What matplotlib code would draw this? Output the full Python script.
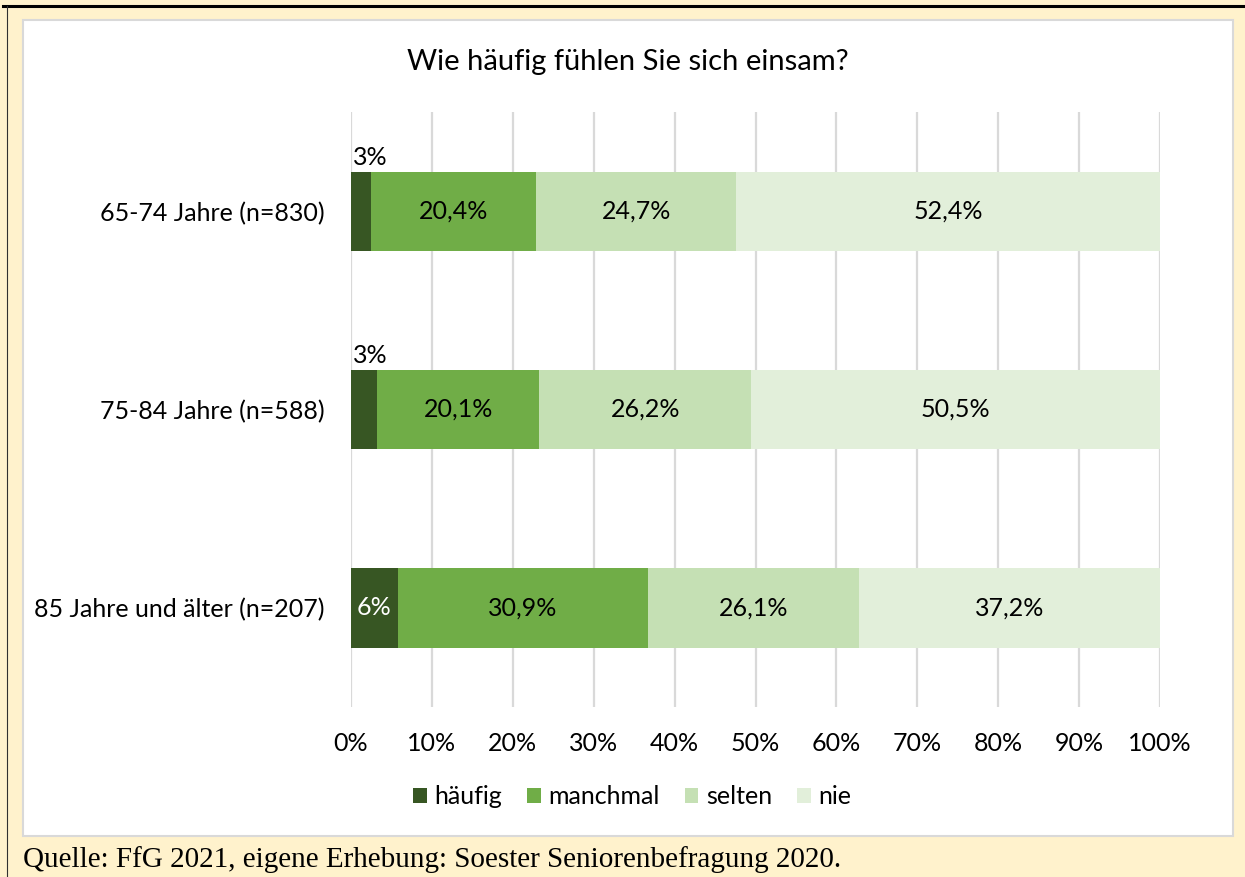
import numpy as np
import matplotlib
matplotlib.use("Agg")
import matplotlib.pyplot as plt
from matplotlib.patches import Rectangle, Patch
from matplotlib.lines import Line2D

plt.rcParams['font.family'] = ['Lato', 'DejaVu Sans']

# data
groups = ["65-74 Jahre (n=830)", "75-84 Jahre (n=588)", "85 Jahre und älter (n=207)"]
categories = ["häufig", "manchmal", "selten", "nie"]
haeufig = [2.5, 3.2, 5.8]
manchmal = [20.4, 20.1, 30.9]
selten = [24.7, 26.2, 26.1]
nie = [52.4, 50.5, 37.2]
colors = ["#375623", "#70AD47", "#C5E0B4", "#E2EFDA"]

W, H = 1245, 877
FS = 18
fig = plt.figure(figsize=(W / 100, H / 100), dpi=100, facecolor="#FFF2CC")

# page decoration: black rule on top, left rule, white chart panel
fig.add_artist(Line2D([3 / W, 1], [1 - 5.5 / H, 1 - 5.5 / H], color="black", lw=2.2,
                      transform=fig.transFigure, zorder=-2))
fig.add_artist(Line2D([7 / W, 7 / W], [0, 1 - 5.5 / H], color="#303030", lw=0.8,
                      transform=fig.transFigure, zorder=-2))
fig.add_artist(Rectangle((23 / W, 1 - 836 / H), (1233 - 23) / W, (836 - 20) / H,
                         facecolor="white", edgecolor="#D9D9D9", lw=1.5,
                         transform=fig.transFigure, zorder=-1))

ax = fig.add_axes([351 / W, 1 - 707 / H, (1160 - 351) / W, 595 / H])
ax.set_facecolor("none")


def pct0(v):
    # round half up like Excel
    return f"{int(np.floor(v + 0.5))}%"


series = [haeufig, manchmal, selten, nie]
y = np.arange(len(groups))
left = np.zeros(len(groups))
for vals, col, name in zip(series, colors, categories):
    ax.barh(y, vals, left=left, height=0.4, color=col, label=name, zorder=3)
    for i, v in enumerate(vals):
        if name == "häufig":
            if v < 5:
                ax.text(0.2, y[i] - 0.2 - 0.015, pct0(v), ha="left", va="bottom",
                        fontsize=FS, color="black", zorder=4)
            else:
                ax.text(left[i] + v / 2, y[i], pct0(v), ha="center", va="center",
                        fontsize=FS, color="white", zorder=4)
        else:
            ax.text(left[i] + v / 2, y[i], f"{v:.1f}%".replace(".", ","), ha="center",
                    va="center", fontsize=FS, color="black", zorder=4)
    left += np.array(vals)

ax.set_xlim(0, 100)
ax.set_ylim(2.5, -0.5)
ax.set_xticks(np.arange(0, 101, 10))
ax.set_xticklabels([f"{t}%" for t in range(0, 101, 10)], fontsize=FS)
ax.set_yticks(y)
ax.set_yticklabels(groups, fontsize=FS)
ax.tick_params(axis="x", length=0, pad=18)
ax.tick_params(axis="y", length=0, pad=19)
ax.grid(axis="x", color="#D9D9D9", lw=1.6, zorder=0)
for s in ax.spines.values():
    s.set_visible(False)

fig.text(628 / W, 1 - 62 / H, "Wie häufig fühlen Sie sich einsam?", ha="center",
         va="center", fontsize=21)

handles = [Patch(facecolor=c, label=n) for c, n in zip(colors, categories)]
fig.legend(handles=handles, loc="center", bbox_to_anchor=(632 / W, 1 - 797 / H), ncol=4,
           frameon=False, fontsize=FS, handlelength=0.55, handleheight=0.55,
           handletextpad=0.3, columnspacing=1.0)

fig.text(23 / W, 1 - 860 / H, "Quelle: FfG 2021, eigene Erhebung: Soester Seniorenbefragung 2020.",
         ha="left", va="center", fontsize=21.0, family="Liberation Serif")

fig.savefig("out.png", dpi=100, facecolor=fig.get_facecolor())
